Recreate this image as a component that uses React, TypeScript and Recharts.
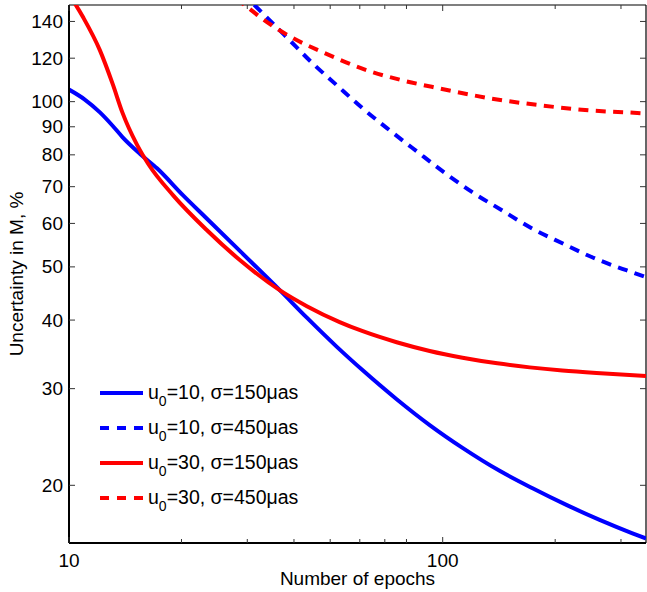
import { LineChart, Line, XAxis, YAxis, Legend, ReferenceLine } from "recharts";

// number of epochs / uncertainty (%), per curve
const BLUE_SOLID_EPOCHS = [10, 11, 12.1, 13.1, 13.9, 15.5, 17.2, 20.2, 23.4, 28.7, 36.7, 43.3, 52.1, 61.1, 75.3, 92.3, 113, 142, 174, 215, 263, 322, 350];
const BLUE_SOLID_VALUES = [105.2, 101, 95.6, 90.3, 86.2, 80.3, 75.6, 67.5, 61.2, 53.4, 45.3, 40.4, 35.75, 32.4, 28.7, 25.75, 23.4, 21.25, 19.75, 18.4, 17.3, 16.35, 16.0];

const BLUE_DASH_EPOCHS = [29, 31.4, 38.5, 44.6, 52.1, 61.1, 72.1, 85.2, 101, 120, 144, 173, 209, 252, 310, 350];
const BLUE_DASH_VALUES = [158, 149.8, 130.4, 117.9, 107.1, 97.2, 88.7, 81.2, 74.3, 68.4, 63.4, 58.8, 55.2, 52.0, 49.3, 47.9];

const RED_SOLID_EPOCHS = [10, 10.9, 12.1, 13.1, 13.9, 15.2, 16.3, 19, 23.4, 28.7, 36.7, 43.3, 53, 61.1, 75.3, 92.3, 113, 140, 171, 209, 258, 350];
const RED_SOLID_VALUES = [157, 142.6, 124, 107.5, 95.5, 83.5, 77, 67.5, 58.3, 51.4, 45.3, 42.4, 39.66, 38.17, 36.45, 35.14, 34.16, 33.36, 32.8, 32.37, 32.03, 31.64];

const RED_DASH_EPOCHS = [28, 29.6, 32.8, 39, 47.8, 63.8, 78.2, 98.2, 134, 182, 247, 343, 350];
const RED_DASH_VALUES = [154, 149.8, 141.8, 131.5, 123, 113.6, 109.3, 105.7, 101.4, 98.5, 96.4, 95.2, 95.1];

const EPOCH_TICKS = [10, 20, 30, 40, 50, 60, 70, 80, 90, 100, 200, 300];
const EPOCH_LABELS = [10, 100];
const UNCERTAINTY_TICKS = [20, 30, 40, 50, 60, 70, 80, 90, 100, 120, 140];

const SERIES = [
  { name: "s10_150", u0: "10", sigma: "150", color: "#0000ff", dashed: false, epochs: BLUE_SOLID_EPOCHS, values: BLUE_SOLID_VALUES },
  { name: "s10_450", u0: "10", sigma: "450", color: "#0000ff", dashed: true, epochs: BLUE_DASH_EPOCHS, values: BLUE_DASH_VALUES },
  { name: "s30_150", u0: "30", sigma: "150", color: "#ff0000", dashed: false, epochs: RED_SOLID_EPOCHS, values: RED_SOLID_VALUES },
  { name: "s30_450", u0: "30", sigma: "450", color: "#ff0000", dashed: true, epochs: RED_DASH_EPOCHS, values: RED_DASH_VALUES },
];

const FONT = "'Liberation Sans', Arial, Helvetica, sans-serif";
const PLOT_TOP = 5;
const PLOT_RIGHT = 646;
const DASH = "10 7.4";

function EpochTick(props: any) {
  const { x, y, payload } = props;
  const major = EPOCH_LABELS.includes(payload.value);
  const len = major ? 6 : 4;
  return (
    <g>
      <line x1={x} y1={y} x2={x} y2={y - len} stroke="#333" strokeWidth={1} />
      <line x1={x} y1={PLOT_TOP} x2={x} y2={PLOT_TOP + len} stroke="#333" strokeWidth={1} />
      {major && (
        <text x={x} y={y + 23.5} textAnchor="middle" fontSize={19} fontFamily={FONT} fill="#000">
          {payload.value}
        </text>
      )}
    </g>
  );
}

function UncertaintyTick(props: any) {
  const { x, y, payload } = props;
  return (
    <g>
      <line x1={x} y1={y} x2={x + 6} y2={y} stroke="#333" strokeWidth={1} />
      <line x1={PLOT_RIGHT} y1={y} x2={PLOT_RIGHT - 6} y2={y} stroke="#333" strokeWidth={1} />
      <text x={x - 6} y={y + 6.5} textAnchor="end" fontSize={19} fontFamily={FONT} fill="#000">
        {payload.value}
      </text>
    </g>
  );
}

function LegendBox() {
  return (
    <svg width={240} height={150}>
      {SERIES.map((s, i) => {
        const cy = 21 + i * 35;
        return (
          <g key={s.name}>
            <line
              x1={5}
              y1={cy}
              x2={48}
              y2={cy}
              stroke={s.color}
              strokeWidth={4}
              strokeDasharray={s.dashed ? "9 8" : undefined}
            />
            <text x={53} y={cy + 6} fontSize={19.5} fontFamily={FONT} fill="#000">
              <tspan>u</tspan>
              <tspan fontSize={14} dy={7}>0</tspan>
              <tspan dy={-7}>{`=${s.u0}, σ=${s.sigma}μas`}</tspan>
            </text>
          </g>
        );
      })}
    </svg>
  );
}

export default function App() {
  return (
    <div style={{ position: "absolute", left: 0, top: 0, background: "#fff" }}>
      <LineChart width={647} height={592} margin={{ top: 5, right: 1, bottom: 0, left: 0 }}>
        <XAxis
          dataKey="epochs"
          type="number"
          scale="log"
          domain={[10, 350]}
          allowDataOverflow
          ticks={EPOCH_TICKS}
          tick={EpochTick}
          tickLine={false}
          tickSize={0}
          tickMargin={0}
          height={49}
          axisLine={{ stroke: "#000", strokeWidth: 2 }}
          label={{
            content: (p: any) => (
              <text
                x={p.viewBox.x + p.viewBox.width / 2}
                y={p.viewBox.y + 42}
                textAnchor="middle"
                fontSize={19}
                fontFamily={FONT}
                fill="#000"
              >
                Number of epochs
              </text>
            ),
          }}
        />
        <YAxis
          type="number"
          scale="log"
          domain={[15.7, 150]}
          allowDataOverflow
          ticks={UNCERTAINTY_TICKS}
          tick={UncertaintyTick}
          tickLine={false}
          tickSize={0}
          tickMargin={0}
          width={69}
          axisLine={{ stroke: "#000", strokeWidth: 2 }}
          label={{
            content: (p: any) => {
              const cx = 16;
              const cy = p.viewBox.y + p.viewBox.height / 2;
              return (
                <text
                  x={cx}
                  y={cy}
                  transform={`rotate(-90 ${cx} ${cy})`}
                  textAnchor="middle"
                  dominantBaseline="central"
                  fontSize={19}
                  fontFamily={FONT}
                  fill="#000"
                >
                  Uncertainty in M, %
                </text>
              );
            },
          }}
        />
        <ReferenceLine y={150} stroke="#000" strokeWidth={1.2} />
        <ReferenceLine x={350} stroke="#000" strokeWidth={1.2} />
        {SERIES.map((s) => (
          <Line
            key={s.name}
            name={s.name}
            data={s.epochs.map((e, i) => ({ epochs: e, value: s.values[i] }))}
            dataKey="value"
            type="monotone"
            stroke={s.color}
            strokeWidth={4}
            strokeDasharray={s.dashed ? DASH : undefined}
            dot={false}
            activeDot={false}
            isAnimationActive={false}
          />
        ))}
        <Legend
          layout="horizontal"
          align="center"
          verticalAlign="middle"
          content={() => <LegendBox />}
          wrapperStyle={{ position: "absolute", left: 95, top: 372, width: 240, height: 150 }}
        />
      </LineChart>
    </div>
  );
}
